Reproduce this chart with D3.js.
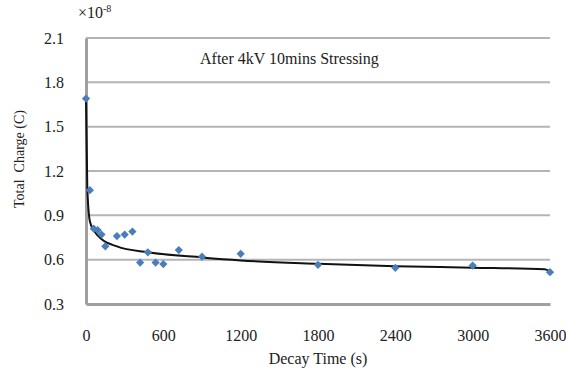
<!DOCTYPE html>
<html>
<head>
<meta charset="utf-8">
<title>Total charge decay</title>
<style>
  body { margin: 0; background: #fff; }
  svg { display: block; font-family: "Liberation Serif", "DejaVu Serif", serif; }
  .tick text { font-size: 16px; fill: #222; }
</style>
<script src="https://d3js.org/d3.v7.min.js"></script>
</head>
<body>
<script>
// measured decay points (x1e-8 C)
var decayTime = [0, 30, 60, 90, 120, 150, 240, 300, 360, 420, 480, 540, 600, 720, 900, 1200, 1800, 2400, 3000, 3600];
var totalCharge = [1.69, 1.07, 0.81, 0.80, 0.77, 0.69, 0.76, 0.77, 0.79, 0.58, 0.65, 0.58, 0.57, 0.665, 0.62, 0.64, 0.565, 0.545, 0.56, 0.515];

// fitted curve
var fitTime = [0, 10, 30, 60, 120, 240, 480, 900, 1200, 1800, 2400, 3000, 3560, 3600];
var fitCharge = [1.69, 1.09, 0.86, 0.80, 0.74, 0.69, 0.65, 0.615, 0.595, 0.572, 0.555, 0.546, 0.535, 0.52];

var xTicks = [0, 600, 1200, 1800, 2400, 3000, 3600];
var yTicks = [0.3, 0.6, 0.9, 1.2, 1.5, 1.8, 2.1];

var W = 566, H = 375;
var margin = {top: 38, right: 16, bottom: 71, left: 86};
var width = W - margin.left - margin.right,
    height = H - margin.top - margin.bottom;

var svg = d3.select("body").append("svg")
  .attr("width", W).attr("height", H);

var g = svg.append("g")
  .attr("transform", "translate(" + margin.left + "," + margin.top + ")");

var x = d3.scaleLinear().domain([0, 3600]).range([0, width]);
var y = d3.scaleLinear().domain([0.3, 2.1]).range([height, 0]);

// grid
g.selectAll(".grid")
  .data(yTicks.slice(1))
  .enter().append("line")
  .attr("class", "grid")
  .attr("x1", 0).attr("x2", width)
  .attr("y1", function (d) { return y(d); })
  .attr("y2", function (d) { return y(d); })
  .attr("stroke", "#b4b4b4")
  .attr("stroke-width", 2);

// axes
var xAxis = g.append("g")
  .attr("transform", "translate(0," + height + ")")
  .call(d3.axisBottom(x).tickValues(xTicks).tickSize(0).tickPadding(26).tickFormat(d3.format("d")));
var yAxis = g.append("g")
  .call(d3.axisLeft(y).tickValues(yTicks).tickSize(0).tickPadding(22).tickFormat(d3.format(".1f")));
[xAxis, yAxis].forEach(function (a) {
  a.select(".domain").attr("stroke", "#a0a0a0").attr("stroke-width", 3);
  a.selectAll("text").attr("font-family", "Liberation Serif");
});

// fitted line
var line = d3.line()
  .x(function (d, i) { return x(fitTime[i]); })
  .y(function (d) { return y(d); })
  .curve(d3.curveMonotoneX);
g.append("path")
  .datum(fitCharge)
  .attr("d", line)
  .attr("fill", "none")
  .attr("stroke", "#111")
  .attr("stroke-width", 2);

// points (excel style diamond = rotated square)
g.selectAll(".pt")
  .data(totalCharge)
  .enter().append("path")
  .attr("class", "pt")
  .attr("d", d3.symbol().type(d3.symbolSquare).size(34))
  .attr("transform", function (d, i) { return "translate(" + x(decayTime[i]) + "," + y(d) + ") rotate(45)"; })
  .attr("fill", "#4a7ebb");

// labels
svg.append("text")
  .attr("x", 200).attr("y", 64)
  .attr("font-size", 16)
  .attr("fill", "#222")
  .text("After 4kV 10mins Stressing");

svg.append("text")
  .attr("x", 318).attr("y", 364)
  .attr("text-anchor", "middle")
  .attr("font-size", 16)
  .attr("fill", "#222")
  .text("Decay Time (s)");

svg.append("text")
  .attr("transform", "translate(24,159) rotate(-90)")
  .attr("text-anchor", "middle")
  .attr("font-size", 14)
  .attr("fill", "#222")
  .attr("xml:space", "preserve")
  .text("Total  Charge (C)");

var mult = svg.append("text")
  .attr("x", 78).attr("y", 18)
  .attr("font-size", 16)
  .attr("fill", "#222");
mult.append("tspan").text("\u00d710");
mult.append("tspan").attr("dy", -6).attr("font-size", 10).text("-8");
</script>
</body>
</html>
